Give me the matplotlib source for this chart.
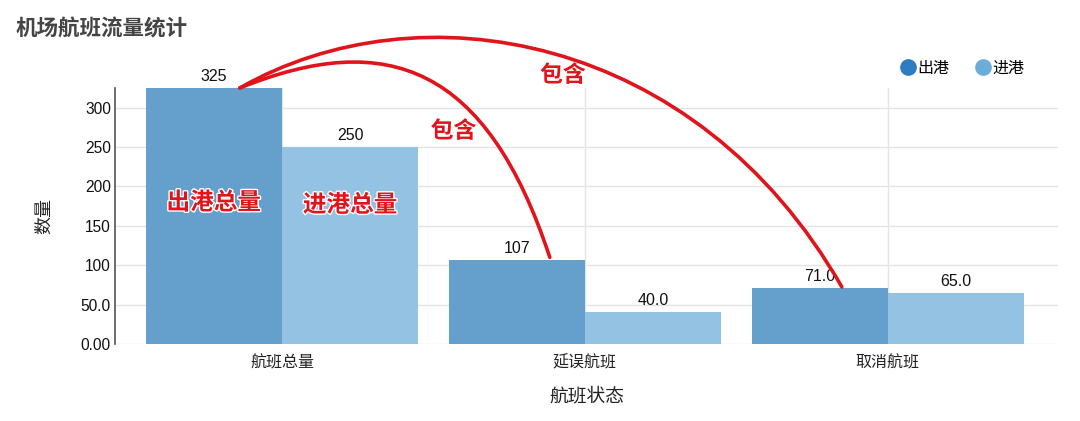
import numpy as np
import matplotlib
matplotlib.use('Agg')
import matplotlib.pyplot as plt
from matplotlib.lines import Line2D
from matplotlib.path import Path
from matplotlib.patches import PathPatch
import matplotlib.patheffects as pe

plt.rcParams['font.family'] = ['Liberation Sans', 'Noto Sans CJK SC', 'DejaVu Sans']

categories = ['航班总量', '延误航班', '取消航班']
out_vals = [325, 107, 71.0]
in_vals = [250, 40.0, 65.0]
out_labels = ['325', '107', '71.0']
in_labels = ['250', '40.0', '65.0']
series_names = ['出港', '进港']
y_ticks = [0, 50, 100, 150, 200, 250, 300]
y_tick_labels = ['0.00', '50.0', '100', '150', '200', '250', '300']

bar_dark = '#65a0cd'
bar_light = '#93c2e3'
leg_dark = '#2f7cc0'
leg_light = '#6badd9'
red = '#e0151b'

fig = plt.figure(figsize=(10.8, 4.21), dpi=100)
ax = fig.add_axes([0.1065, 0.1829, 0.873, 0.6081])

x = np.arange(len(categories))
w = 0.45
ax.bar(x - w / 2, out_vals, w, color=bar_dark, zorder=2)
ax.bar(x + w / 2, in_vals, w, color=bar_light, zorder=2)

for i in range(len(categories)):
    ax.annotate(out_labels[i], (x[i] - w / 2, out_vals[i]), xytext=(0, 3),
                textcoords='offset points', ha='center', va='bottom', fontsize=11.5, color='#111111')
    ax.annotate(in_labels[i], (x[i] + w / 2, in_vals[i]), xytext=(0, 3),
                textcoords='offset points', ha='center', va='bottom', fontsize=11.5, color='#111111')

ax.set_xlim(-0.551, 2.561)
ax.set_ylim(0, 325)
ax.set_yticks(y_ticks)
ax.set_yticklabels(y_tick_labels, fontsize=11.2, color='#111111')
ax.set_xticks(x)
ax.set_xticklabels(categories, fontsize=11.5, color='#222222')
ax.tick_params(axis='y', length=0, pad=3)
ax.tick_params(axis='x', length=0, pad=8)

ax.set_axisbelow(True)
ax.grid(True, color='#e4e4e4', lw=1)
for s in ['top', 'right', 'bottom']:
    ax.spines[s].set_visible(False)
ax.spines['left'].set_color('#555555')
ax.spines['left'].set_linewidth(1.2)

ax.set_ylabel('数量', fontsize=13, color='#222222', labelpad=20)
ax.set_xlabel('航班状态', fontsize=13.5, color='#222222', labelpad=12)

fig.text(0.014, 0.928, '机场航班流量统计', fontsize=15.5, fontweight='bold', color='#444444',
         ha='left', va='center')

handles = [Line2D([], [], marker='o', ls='none', color=leg_dark, markersize=11),
           Line2D([], [], marker='o', ls='none', color=leg_light, markersize=11)]
fig.legend(handles, series_names, loc='center right', bbox_to_anchor=(0.962, 0.838), ncol=2,
           frameon=False, fontsize=11.5, handletextpad=0.1, columnspacing=1.6, handlelength=1.0)

# red hand-drawn notes
halo = [pe.withStroke(linewidth=2, foreground='white')]
ax.text(x[0] - w / 2, 179, '出港总量', color=red, fontsize=17, fontweight='bold',
        ha='center', va='center', path_effects=halo, zorder=5)
ax.text(x[0] + w / 2, 176, '进港总量', color=red, fontsize=17, fontweight='bold',
        ha='center', va='center', path_effects=halo, zorder=5)
ax.text(0.566, 270, '包含', color=red, fontsize=16.5, fontweight='bold',
        ha='center', va='center', path_effects=halo, zorder=5)
ax.text(0.927, 341, '包含', color=red, fontsize=16.5, fontweight='bold',
        ha='center', va='center', path_effects=halo, zorder=5, clip_on=False)

# curved links from the 325 bar to the delayed / cancelled bars (cubic bezier)
start = (x[0] - w / 2 + 0.086, out_vals[0])
end_inner = (x[1] - w / 2 + 0.109, out_vals[1] + 3)
end_outer = (x[2] - w / 2 + 0.073, out_vals[2] + 1.4)
ctrl_inner = [(0.350, 401), (0.677, 352)]
ctrl_outer = [(0.452, 455), (1.366, 396)]
codes = [Path.MOVETO, Path.CURVE4, Path.CURVE4, Path.CURVE4]
for ctrl, end in [(ctrl_inner, end_inner), (ctrl_outer, end_outer)]:
    p = Path([start] + ctrl + [end], codes)
    ax.add_patch(PathPatch(p, fc='none', ec=red, lw=2.6, capstyle='round',
                           clip_on=False, zorder=6))

fig.savefig('out.png', dpi=100)
